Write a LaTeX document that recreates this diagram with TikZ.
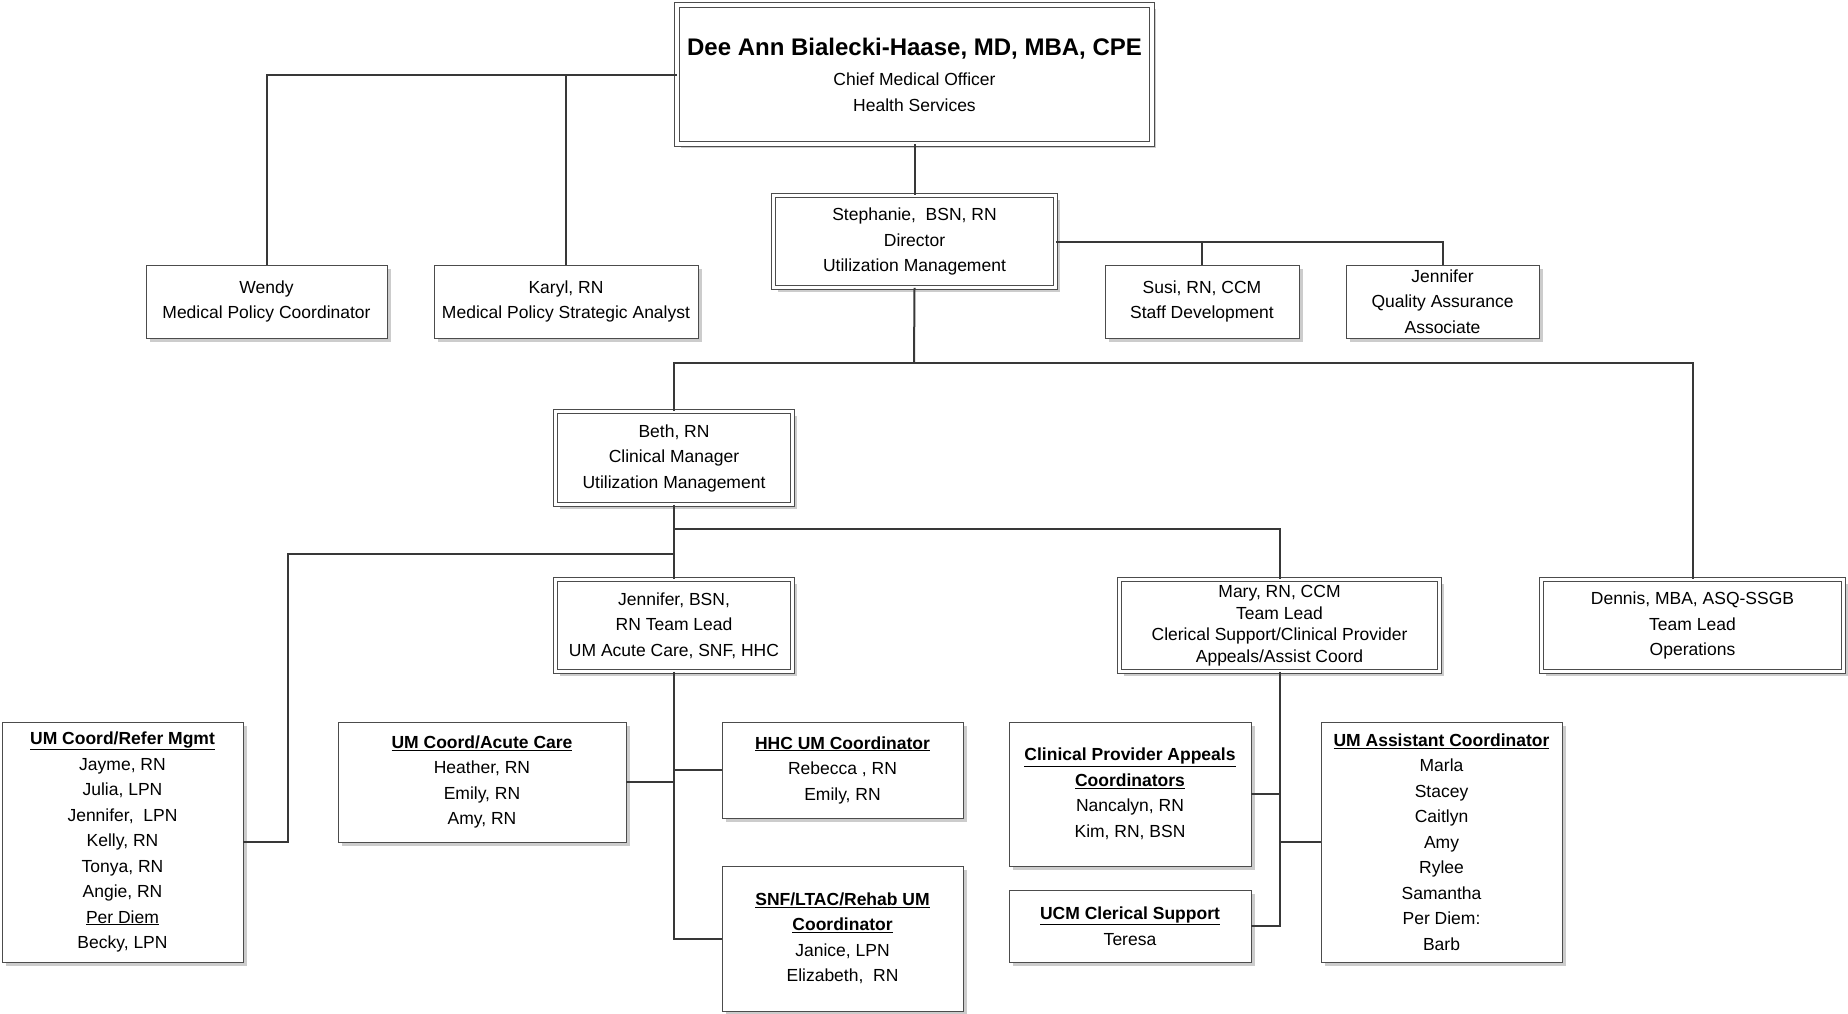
\documentclass[tikz,border=0pt]{standalone}
\usepackage{fontspec}
\setmainfont{Liberation Sans}
\usetikzlibrary{shadows}
\newcommand{\hdr}[1]{\textbf{\underline{#1}}}
\colorlet{boxline}{black!70}
\colorlet{linkcol}{black!78}
\tikzset{orgbox/.style={
  draw=boxline,
  line width=0.9pt,
  fill=white,
  align=center,
  inner sep=0pt,
  font=\fontsize{17.5}{25.5}\selectfont,
  drop shadow={shadow xshift=4pt,shadow yshift=-4pt,fill=black!20,opacity=1}
}}
\tikzset{headbox/.style={orgbox,double=white,double distance=3.5pt}}
\tikzset{wh/.style 2 args={minimum width=#1pt,minimum height=#2pt}}
\tikzset{link/.style={draw=linkcol,line width=2pt}}

\begin{document}
\begin{tikzpicture}[x=1pt,y=-1pt]
    \fill[white] (0,0) rectangle (1848,1013);
    \useasboundingbox (0,0) rectangle (1848,1013);

    % Chief and staff
    \node[headbox,wh={475}{139}] (cmo) at (914.5,74.5)
      {{\fontsize{24}{28}\selectfont\bfseries Dee Ann Bialecki-Haase, MD, MBA, CPE}\\[5pt]
       Chief Medical Officer\\Health Services};
    \node[orgbox,wh={241}{73}] (wendy) at (266.5,301.5)
      {Wendy\\Medical Policy Coordinator};
    \node[orgbox,wh={264}{73}] (karyl) at (566,301.5)
      {Karyl, RN\\Medical Policy Strategic Analyst};

    % Director and staff
    \node[headbox,wh={282}{92}] (steph) at (914.5,241.5)
      {Stephanie,\ \ BSN, RN\\Director\\Utilization Management};
    \node[orgbox,wh={194}{73}] (susi) at (1202,301.5)
      {Susi, RN, CCM\\Staff Development};
    \node[orgbox,wh={193}{73}] (jqa) at (1442.5,301.5)
      {Jennifer\\Quality Assurance\\Associate};

    % Managers and team leads
    \node[headbox,wh={237}{93}] (beth) at (674,458)
      {Beth, RN\\Clinical Manager\\Utilization Management};
    \node[headbox,wh={237}{92}] (jbsn) at (674,625.5)
      {Jennifer, BSN,\\RN Team Lead\\UM Acute Care, SNF, HHC};
    \node[headbox,wh={320}{92},font=\fontsize{17.5}{21.5}\selectfont] (mary) at (1279.5,625.5)
      {Mary, RN, CCM\\Team Lead\\Clerical Support/Clinical Provider\\Appeals/Assist Coord};
    \node[headbox,wh={302}{92}] (dennis) at (1692.5,625.5)
      {Dennis, MBA, ASQ-SSGB\\Team Lead\\Operations};

    % Coordinator groups
    \node[orgbox,wh={241}{240}] (refer) at (122.5,842)
      {\hdr{UM Coord/Refer Mgmt}\\Jayme, RN\\Julia, LPN\\Jennifer,\ \ LPN\\Kelly, RN\\
       Tonya, RN\\Angie, RN\\\underline{Per Diem}\\Becky, LPN};
    \node[orgbox,wh={288}{120}] (acute) at (482,782)
      {\hdr{UM Coord/Acute Care}\\Heather, RN\\Emily, RN\\Amy, RN};
    \node[orgbox,wh={241}{96}] (hhc) at (842.5,770)
      {\hdr{HHC UM Coordinator}\\Rebecca , RN\\Emily, RN};
    \node[orgbox,wh={241}{145}] (snf) at (842.5,938.5)
      {\hdr{SNF/LTAC/Rehab UM}\\\hdr{Coordinator}\\Janice, LPN\\Elizabeth,\ \ RN};
    \node[orgbox,wh={242}{144}] (cpa) at (1130,794)
      {\hdr{Clinical Provider Appeals}\\\hdr{Coordinators}\\Nancalyn, RN\\Kim, RN, BSN};
    \node[orgbox,wh={242}{72}] (ucm) at (1130,926)
      {\hdr{UCM Clerical Support}\\Teresa};
    \node[orgbox,wh={241}{240}] (uma) at (1441.5,842)
      {\hdr{UM Assistant Coordinator}\\Marla\\Stacey\\Caitlyn\\Amy\\Rylee\\Samantha\\
       Per Diem:\\Barb};

    % Junctions
    \coordinate (bus) at (914,363);
    \coordinate (mbus) at (674,529);
    \coordinate (lbus) at (288,554);

    % Upper links
    \draw[link] (cmo.west) -| (wendy.north);
    \draw[link] (karyl.north) |- (cmo.west);
    \draw[link] (cmo.south) -- (steph.north);
    \draw[link] (steph.east) -| (jqa.north);
    \draw[link] (susi.north) |- (steph.east);
    \draw[link] (steph.south) -- (bus);
    \draw[link] (beth.north) |- (bus) -| (dennis.north);

    % Clinical manager links
    \draw[link] (beth.south) -- (jbsn.north);
    \draw[link] (mbus) -| (mary.north);
    \draw[link] (lbus -| beth.south) -- (lbus) |- (refer.east);

    % Team lead links
    \draw[link] (jbsn.south) |- (snf.west);
    \draw[link] (acute.east) -- (acute.east -| jbsn.south);
    \draw[link] (hhc.west) -- (hhc.west -| jbsn.south);
    \draw[link] (mary.south) |- (ucm.east);
    \draw[link] (cpa.east) -- (cpa.east -| mary.south);
    \draw[link] (uma.west) -- (uma.west -| mary.south);

  \end{tikzpicture}
\end{document}
